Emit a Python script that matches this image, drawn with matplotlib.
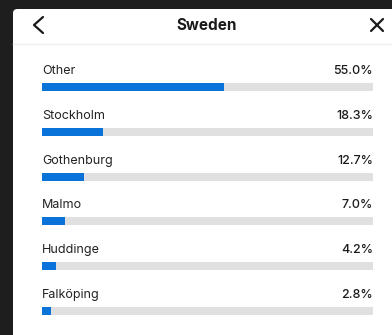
import matplotlib.pyplot as plt
from matplotlib.patches import FancyBboxPatch
from matplotlib.lines import Line2D

plt.rcParams['font.family'] = ['Inter', 'DejaVu Sans']

title = 'Sweden'
cities = ['Other', 'Stockholm', 'Gothenburg', 'Malmo', 'Huddinge', 'Falköping']
shares = [55.0, 18.3, 12.7, 7.0, 4.2, 2.8]

W, H = 392, 335
fig = plt.figure(figsize=(W / 100, H / 100), dpi=100, facecolor='#1e1e1e')

# white panel behind everything
panel = FancyBboxPatch((13 / W, -0.1), 1.0, (H - 9) / H + 0.1,
                       boxstyle='round,pad=0,rounding_size=0.012',
                       transform=fig.transFigure, facecolor='white',
                       edgecolor='none', zorder=-5)
fig.add_artist(panel)

# header
fig.text(207 / W, 1 - 25 / H, title, ha='center', va='center',
         fontsize=11, fontweight='bold', color='#1a1a1a')
fig.add_artist(Line2D([43 / W, 34 / W, 43 / W],
                      [1 - 17 / H, 1 - 25 / H, 1 - 33 / H],
                      transform=fig.transFigure, color='#1a1a1a', lw=1.6,
                      solid_capstyle='round', solid_joinstyle='round'))
fig.add_artist(Line2D([371 / W, 383 / W], [1 - 19 / H, 1 - 31 / H],
                      transform=fig.transFigure, color='#1a1a1a', lw=1.6,
                      solid_capstyle='round'))
fig.add_artist(Line2D([371 / W, 383 / W], [1 - 31 / H, 1 - 19 / H],
                      transform=fig.transFigure, color='#1a1a1a', lw=1.6,
                      solid_capstyle='round'))
fig.add_artist(Line2D([13 / W, 1], [1 - 44 / H, 1 - 44 / H],
                      transform=fig.transFigure, color='#eeeeee', lw=1))

# bars
row = 44.8
top_px, bot_px = 50, 330
ax = fig.add_axes([42 / W, (H - bot_px) / H, (373 - 42) / W, (bot_px - top_px) / H])
ax.set_xlim(0, 100)
ax.set_ylim((bot_px - 87) / row, (top_px - 87) / row)
ax.axis('off')

pos = list(range(len(cities)))
bh = 8 / row
ax.barh(pos, [100] * len(cities), height=bh, color='#e0e0e0')
ax.barh(pos, shares, height=bh, color='#0a73d9')

for i, (c, s) in enumerate(zip(cities, shares)):
    ax.text(0, i - 16 / row, c, ha='left', va='center', fontsize=9,
            color='#222222')
    ax.text(100, i - 16 / row, f'{s:.1f}%', ha='right', va='center',
            fontsize=9, fontweight='medium', color='#1a1a1a')

plt.savefig('out.png', dpi=100, facecolor=fig.get_facecolor())
